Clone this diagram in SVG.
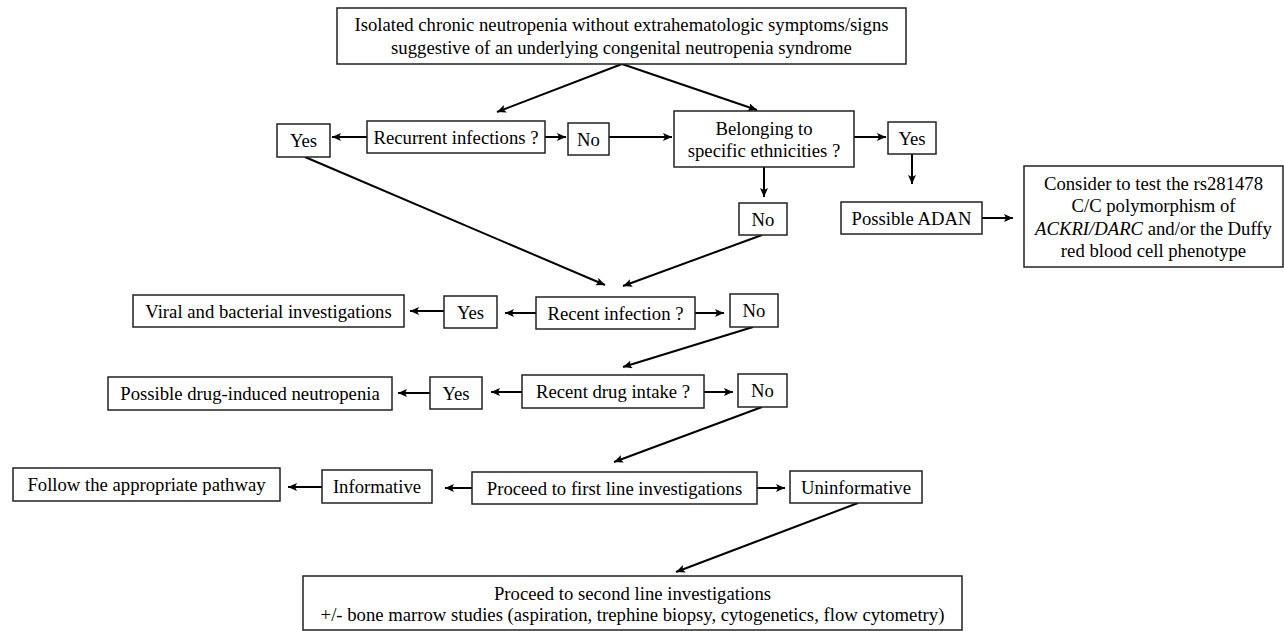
<svg xmlns="http://www.w3.org/2000/svg" width="1284" height="631" viewBox="0 0 1284 631">
<defs>
<style>
.box{fill:#fff;stroke:#222;stroke-width:1.5}
.t{font-family:"Liberation Serif","Times New Roman",serif;font-size:18.7px;fill:#000;text-anchor:middle}
.c line{stroke:#000;stroke-width:2;marker-end:url(#ah)}
</style>
<marker id="ah" markerUnits="userSpaceOnUse" markerWidth="10" markerHeight="8" refX="9" refY="4" orient="auto">
<path d="M0,0 L9,4 L0,8 L2,4 z" fill="#000"/>
</marker>
</defs>
<rect width="1284" height="631" fill="#fff"/>

<g id="connectors" class="c">
<line x1="622" y1="64" x2="497" y2="112"/>
<line x1="622" y1="64" x2="757" y2="110"/>
<line x1="367" y1="137" x2="332" y2="137"/>
<line x1="545" y1="137" x2="566" y2="137"/>
<line x1="609" y1="137" x2="672" y2="137"/>
<line x1="854" y1="137" x2="886" y2="137"/>
<line x1="912" y1="154" x2="912" y2="184"/>
<line x1="764" y1="167" x2="764" y2="197"/>
<line x1="982" y1="218" x2="1013" y2="218"/>
<line x1="305" y1="157" x2="605" y2="285"/>
<line x1="762" y1="235" x2="623" y2="286"/>
<line x1="536" y1="313" x2="505" y2="313"/>
<line x1="444" y1="311" x2="410" y2="311"/>
<line x1="695" y1="313" x2="724" y2="313"/>
<line x1="753" y1="327" x2="623" y2="367"/>
<line x1="522" y1="392" x2="491" y2="392"/>
<line x1="430" y1="393" x2="398" y2="393"/>
<line x1="704" y1="392" x2="733" y2="392"/>
<line x1="762" y1="407" x2="614" y2="462"/>
<line x1="472" y1="488" x2="445" y2="488"/>
<line x1="322" y1="487" x2="288" y2="487"/>
<line x1="757" y1="488" x2="785" y2="488"/>
<line x1="858" y1="503" x2="676" y2="572"/>
</g>

<g id="n-start">
<rect class="box" x="337" y="8" width="569" height="56"/>
<text class="t" x="621.5" y="31">Isolated chronic neutropenia without extrahematologic symptoms/signs</text>
<text class="t" x="621.5" y="54">suggestive of an underlying congenital neutropenia syndrome</text>
</g>
<g id="n-yes1">
<rect class="box" x="277" y="124" width="53" height="33"/>
<text class="t" x="303.5" y="147">Yes</text>
</g>
<g id="n-recurrent">
<rect class="box" x="367" y="121" width="178" height="32"/>
<text class="t" x="456" y="143.5">Recurrent infections ?</text>
</g>
<g id="n-no1">
<rect class="box" x="568" y="123" width="41" height="32"/>
<text class="t" x="588.5" y="145.5">No</text>
</g>
<g id="n-ethnic">
<rect class="box" x="674" y="111" width="180" height="56"/>
<text class="t" x="764" y="134.5">Belonging to</text>
<text class="t" x="764" y="157">specific ethnicities ?</text>
</g>
<g id="n-yes2">
<rect class="box" x="888" y="122" width="48" height="32"/>
<text class="t" x="912" y="144.5">Yes</text>
</g>
<g id="n-no2">
<rect class="box" x="739" y="203" width="48" height="32"/>
<text class="t" x="763" y="225.5">No</text>
</g>
<g id="n-adan">
<rect class="box" x="841" y="202" width="141" height="32"/>
<text class="t" x="911.5" y="224.5">Possible ADAN</text>
</g>
<g id="n-consider">
<rect class="box" x="1024" y="166" width="259" height="101"/>
<text class="t" x="1153.5" y="189.5">Consider to test the rs281478</text>
<text class="t" x="1153.5" y="212">C/C polymorphism of</text>
<text class="t" x="1153.5" y="234.5"><tspan font-style="italic">ACKRI/DARC</tspan> and/or the Duffy</text>
<text class="t" x="1153.5" y="257">red blood cell phenotype</text>
</g>
<g id="n-viral">
<rect class="box" x="133" y="295" width="271" height="32"/>
<text class="t" x="268.5" y="317.5">Viral and bacterial investigations</text>
</g>
<g id="n-yes3">
<rect class="box" x="444" y="296" width="53" height="32"/>
<text class="t" x="470.5" y="318.5">Yes</text>
</g>
<g id="n-recentinf">
<rect class="box" x="536" y="297" width="159" height="32"/>
<text class="t" x="615.5" y="319.5">Recent infection ?</text>
</g>
<g id="n-no3">
<rect class="box" x="730" y="294" width="48" height="33"/>
<text class="t" x="754" y="317">No</text>
</g>
<g id="n-drugneut">
<rect class="box" x="108" y="377" width="284" height="33"/>
<text class="t" x="250" y="400">Possible drug-induced neutropenia</text>
</g>
<g id="n-yes4">
<rect class="box" x="430" y="377" width="52" height="32"/>
<text class="t" x="456" y="399.5">Yes</text>
</g>
<g id="n-recentdrug">
<rect class="box" x="522" y="375" width="182" height="33"/>
<text class="t" x="613" y="398">Recent drug intake ?</text>
</g>
<g id="n-no4">
<rect class="box" x="738" y="374" width="49" height="33"/>
<text class="t" x="762.5" y="397">No</text>
</g>
<g id="n-follow">
<rect class="box" x="13" y="468" width="267" height="33"/>
<text class="t" x="146.5" y="491">Follow the appropriate pathway</text>
</g>
<g id="n-informative">
<rect class="box" x="322" y="470" width="110" height="33"/>
<text class="t" x="377" y="493">Informative</text>
</g>
<g id="n-firstline">
<rect class="box" x="472" y="472" width="285" height="32"/>
<text class="t" x="614.5" y="494.5">Proceed to first line investigations</text>
</g>
<g id="n-uninformative">
<rect class="box" x="790" y="471" width="132" height="32"/>
<text class="t" x="856" y="493.5">Uninformative</text>
</g>
<g id="n-secondline">
<rect class="box" x="303" y="576" width="659" height="54"/>
<text class="t" x="632.5" y="600">Proceed to second line investigations</text>
<text class="t" x="632.5" y="621">+/- bone marrow studies (aspiration, trephine biopsy, cytogenetics, flow cytometry)</text>
</g>
</svg>
